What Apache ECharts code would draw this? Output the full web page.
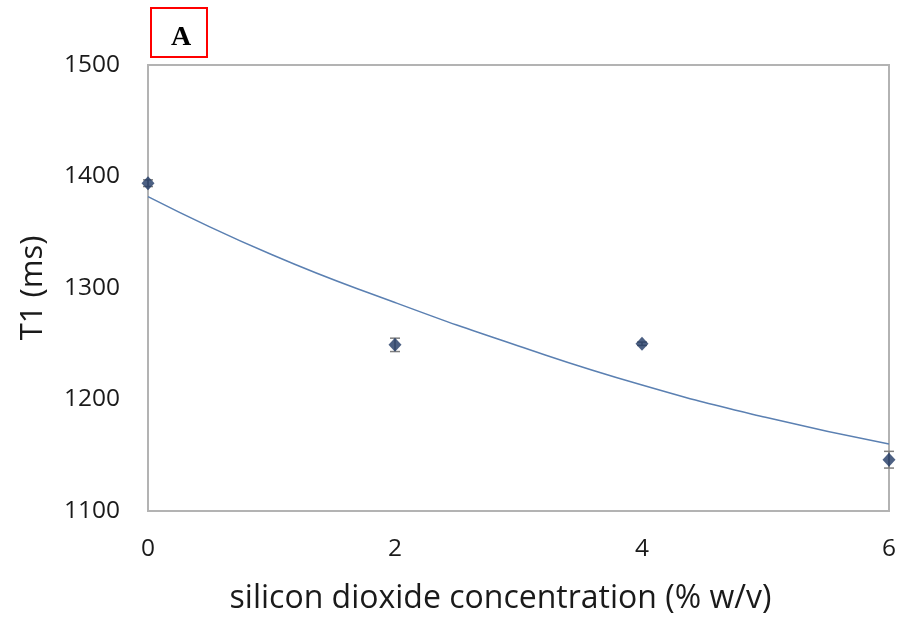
<!DOCTYPE html>
<html>
<head>
<meta charset="utf-8">
<script src="https://cdn.jsdelivr.net/npm/echarts@6/dist/echarts.min.js"></script>
<style>
  html, body { margin: 0; padding: 0; background: #ffffff; }
  #chart { width: 899px; height: 620px; }
</style>
</head>
<body>
<div id="chart"></div>
<script>
// Silicon dioxide concentration (% w/v) and measured T1 relaxation (ms)
const concentration = [0, 2, 4, 6];
const t1Values = [1394, 1249, 1250, 1146];
const t1Errors = [3, 6, 1.5, 7.5];

// Fitted trend curve, sampled at whole concentrations
const trendX = [0, 1, 2, 3, 4, 5, 6];
const trendY = [1382, 1330, 1287, 1248, 1213, 1184, 1160];

const xTicks = [0, 2, 4, 6];
const yTicks = [1100, 1200, 1300, 1400, 1500];

const chart = echarts.init(document.getElementById('chart'), null, { renderer: 'canvas' });

const boxColor = '#b3b3b3';
const font = '"Open Sans", "Noto Sans", sans-serif';

chart.setOption({
  animation: false,
  backgroundColor: '#ffffff',
  grid: { left: 148, top: 65, right: 6, bottom: 108, show: true, borderColor: boxColor, borderWidth: 2, backgroundColor: 'transparent' },
  xAxis: {
    type: 'value',
    min: xTicks[0],
    max: xTicks[xTicks.length - 1],
    interval: 2,
    name: 'silicon dioxide concentration (% w/v)',
    nameLocation: 'middle',
    nameGap: 72,
    nameTextStyle: { fontFamily: font, fontSize: 32, color: '#1a1a1a', verticalAlign: 'top', padding: [0, 36, 0, 0] },
    axisLine: { show: false },
    axisTick: { show: false },
    splitLine: { show: false },
    axisLabel: { fontFamily: font, fontSize: 24.5, color: '#1a1a1a', margin: 26 }
  },
  yAxis: {
    type: 'value',
    min: yTicks[0],
    max: yTicks[yTicks.length - 1],
    interval: 100,
    name: 'T1 (ms)',
    nameLocation: 'middle',
    nameGap: 99,
    nameTextStyle: { fontFamily: font, fontSize: 31, color: '#1a1a1a' },
    axisLine: { show: false },
    axisTick: { show: false },
    splitLine: { show: false },
    axisLabel: { fontFamily: font, fontSize: 24.5, color: '#1a1a1a', margin: 28, formatter: v => String(v) }
  },
  graphic: [
    {
      type: 'rect',
      shape: { x: 151, y: 8, width: 56, height: 49 },
      style: { fill: '#ffffff', stroke: '#ff0000', lineWidth: 2 }
    },
    {
      type: 'text',
      x: 181, y: 38,
      style: {
        text: 'A',
        font: 'bold 28px "Liberation Serif", "DejaVu Serif", serif',
        fill: '#000000',
        align: 'center',
        verticalAlign: 'middle'
      }
    }
  ],
  series: [
    {
      type: 'line',
      data: trendX.map((x, i) => [x, trendY[i]]),
      smooth: 0.5,
      symbol: 'none',
      lineStyle: { color: '#5b80b2', width: 1.5 },
      z: 2
    },
    {
      type: 'custom',
      clip: false,
      data: concentration.map((x, i) => [x, t1Values[i], t1Errors[i]]),
      renderItem: function (params, api) {
        const x = api.value(0);
        const y = api.value(1);
        const e = api.value(2);
        const top = api.coord([x, y + e]);
        const bot = api.coord([x, y - e]);
        const half = 5;
        const style = { stroke: '#7f7f7f', lineWidth: 1.5, fill: null };
        return {
          type: 'group',
          children: [
            { type: 'line', shape: { x1: top[0], y1: top[1], x2: bot[0], y2: bot[1] }, style: style },
            { type: 'line', shape: { x1: top[0] - half, y1: top[1], x2: top[0] + half, y2: top[1] }, style: style },
            { type: 'line', shape: { x1: bot[0] - half, y1: bot[1], x2: bot[0] + half, y2: bot[1] }, style: style }
          ]
        };
      },
      z: 3
    },
    {
      type: 'scatter',
      clip: false,
      data: concentration.map((x, i) => [x, t1Values[i]]),
      symbol: 'diamond',
      symbolSize: [13, 14],
      itemStyle: { color: '#1f3864' },
      z: 4
    }
  ]
});
</script>
</body>
</html>
